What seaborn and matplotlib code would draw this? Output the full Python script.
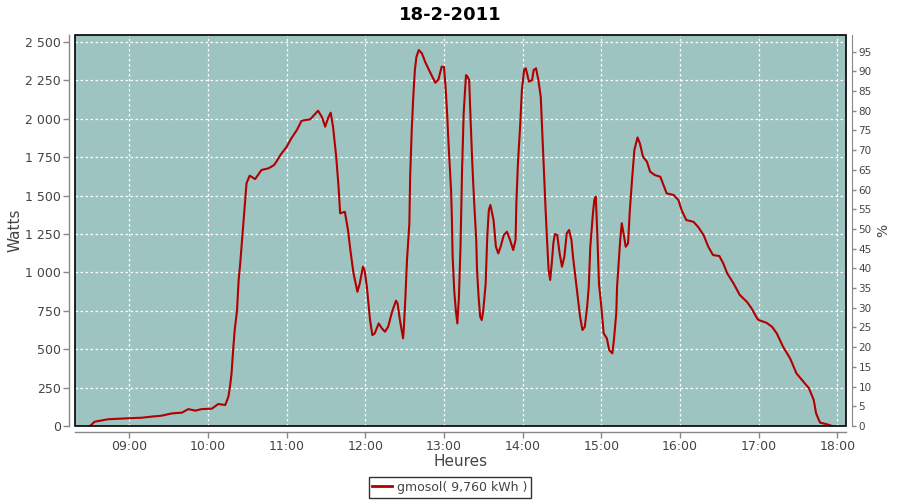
import matplotlib
matplotlib.use("Agg")
import matplotlib.pyplot as plt
from matplotlib.patches import Rectangle
from matplotlib.ticker import FuncFormatter, MultipleLocator
import seaborn as sns
import pandas as pd

# ---- data (time in decimal hours, power in W) ----
hours = [8.50, 8.56, 8.73, 8.97, 9.16, 9.28, 9.41, 9.54, 9.67, 9.75, 9.84, 9.92,
         10.05, 10.13, 10.22, 10.26, 10.28, 10.30, 10.32, 10.34, 10.37, 10.39, 10.41,
         10.43, 10.45, 10.47, 10.49, 10.53, 10.60, 10.68, 10.77, 10.84, 10.87, 10.92,
         11.00, 11.06, 11.13, 11.19, 11.30, 11.40, 11.45, 11.49, 11.53, 11.56, 11.59,
         11.63, 11.66, 11.68, 11.74, 11.78, 11.81, 11.85, 11.90, 11.93, 11.97, 11.99,
         12.02, 12.06, 12.09, 12.12, 12.17, 12.21, 12.25, 12.29, 12.34, 12.39, 12.41,
         12.44, 12.48, 12.49, 12.51, 12.53, 12.56, 12.57, 12.59, 12.61, 12.63, 12.65,
         12.68, 12.72, 12.76, 12.82, 12.89, 12.93, 12.97, 13.00, 13.02, 13.04, 13.06,
         13.09, 13.10, 13.11, 13.13, 13.15, 13.17, 13.19, 13.21, 13.23, 13.25, 13.28,
         13.30, 13.32, 13.34, 13.36, 13.38, 13.41, 13.42, 13.44, 13.46, 13.48, 13.50,
         13.53, 13.55, 13.57, 13.59, 13.63, 13.66, 13.69, 13.72, 13.76, 13.80, 13.84,
         13.88, 13.91, 13.92, 13.94, 13.97, 13.99, 14.02, 14.04, 14.08, 14.12, 14.14,
         14.17, 14.20, 14.23, 14.25, 14.27, 14.29, 14.31, 14.33, 14.35, 14.37, 14.39,
         14.41, 14.44, 14.47, 14.50, 14.53, 14.56, 14.59, 14.62, 14.64, 14.67, 14.70,
         14.73, 14.76, 14.79, 14.82, 14.84, 14.86, 14.89, 14.91, 14.93, 14.95, 14.97,
         15.00, 15.03, 15.07, 15.10, 15.14, 15.16, 15.19, 15.20, 15.22, 15.24, 15.26,
         15.29, 15.31, 15.34, 15.36, 15.39, 15.42, 15.46, 15.49, 15.53, 15.58, 15.62,
         15.68, 15.75, 15.79, 15.83, 15.92, 15.98, 16.02, 16.08, 16.17, 16.23, 16.30,
         16.36, 16.42, 16.50, 16.55, 16.60, 16.68, 16.76, 16.85, 16.91, 16.98, 17.00,
         17.10, 17.17, 17.23, 17.31, 17.40, 17.48, 17.57, 17.64, 17.70, 17.73, 17.78,
         17.87, 17.93]
watts = [0, 28, 44, 50, 54, 61, 67, 82, 87, 110, 100, 110,
         113, 143, 137, 191, 256, 343, 495, 625, 755, 950, 1059,
         1189, 1320, 1450, 1580, 1630, 1608, 1667, 1678, 1699, 1721, 1764,
         1818, 1873, 1927, 1988, 1997, 2053, 2010, 1949, 2010, 2040, 1949,
         1753, 1558, 1385, 1395, 1276, 1146, 994, 874, 929, 1037, 1016,
         907, 690, 592, 603, 668, 636, 614, 646, 744, 816, 798,
         690, 571, 636, 842, 1081, 1320, 1623, 1927, 2144, 2318, 2404,
         2448, 2426, 2372, 2307, 2235, 2257, 2339, 2339, 2209, 2035, 1818,
         1536, 1363, 1102, 885, 755, 668, 842, 1167, 1667, 2035, 2285,
         2274, 2252, 1971, 1710, 1493, 1211, 1016, 842, 712, 690, 755,
         929, 1232, 1406, 1439, 1341, 1167, 1124, 1167, 1243, 1265, 1211,
         1146, 1211, 1450, 1710, 1971, 2188, 2322, 2329, 2242, 2252, 2318,
         2329, 2252, 2144, 1905, 1667, 1428, 1211, 1016, 951, 1059, 1189,
         1250, 1243, 1124, 1037, 1102, 1254, 1276, 1211, 1102, 972, 842,
         712, 625, 646, 777, 907, 1167, 1363, 1471, 1493, 1232, 929,
         777, 603, 571, 495, 473, 560, 734, 907, 1059, 1211, 1320,
         1232, 1167, 1189, 1385, 1602, 1797, 1879, 1840, 1753, 1721, 1656,
         1634, 1623, 1569, 1515, 1504, 1471, 1406, 1341, 1330, 1297, 1243,
         1167, 1113, 1107, 1059, 994, 929, 853, 809, 766, 701, 690,
         672, 646, 603, 516, 440, 343, 288, 245, 169, 82, 22,
         11, 0]

x_ticks = [9, 10, 11, 12, 13, 14, 15, 16, 17, 18]
x_tick_labels = ["09:00", "10:00", "11:00", "12:00", "13:00", "14:00",
                 "15:00", "16:00", "17:00", "18:00"]
title = "18-2-2011"
series_label = "gmosol( 9,760 kWh )"

df = pd.DataFrame({"h": hours, "w": watts})

TXT = "#444444"
AX = "#888888"
LINE = "#b00000"
BG = "#9ec4c2"

fig = plt.figure(figsize=(9, 5), dpi=100)
fig.patch.set_facecolor("white")
ax = fig.add_axes([75 / 900, 74 / 500, 771 / 900, 391 / 500])
ax.set_facecolor(BG)

ax.grid(True, color="white", linestyle=(0, (2, 2)), linewidth=0.9)
ax.set_axisbelow(True)

sns.lineplot(data=df, x="h", y="w", ax=ax, color=LINE, linewidth=1.5,
             legend=False, zorder=3)

ax.set_xlim(8.31, 18.11)
ax.set_ylim(0, 2546)
ax.set_xticks(x_ticks)
ax.set_xticklabels(x_tick_labels)
ax.yaxis.set_major_locator(MultipleLocator(250))
ax.yaxis.set_major_formatter(FuncFormatter(lambda v, p: f"{int(v):,}".replace(",", " ")))

for s in ["top", "right"]:
    ax.spines[s].set_visible(False)
for s in ["left", "bottom"]:
    ax.spines[s].set_position(("outward", 4))
    ax.spines[s].set_color(AX)
    ax.spines[s].set_linewidth(1)
ax.tick_params(axis="both", direction="out", length=4, width=1, color=AX,
               labelcolor=TXT, labelsize=9, pad=2)

# black frame around plot area
ax.add_patch(Rectangle((0, 0), 1, 1, transform=ax.transAxes, fill=False,
                       edgecolor="black", linewidth=1.2, clip_on=False, zorder=5))

ax.set_xlabel("Heures", fontsize=11, color=TXT, labelpad=1)
ax.set_ylabel("Watts", fontsize=11, color=TXT, labelpad=2)

# right percentage axis
ax2 = ax.twinx()
ax2.set_ylim(0, 99.2)
ax2.yaxis.set_major_locator(MultipleLocator(5))
for s in ["top", "left", "bottom"]:
    ax2.spines[s].set_visible(False)
ax2.spines["right"].set_position(("outward", 4))
ax2.spines["right"].set_color(AX)
ax2.tick_params(axis="y", direction="out", length=3, width=1, color=AX,
                labelcolor=TXT, labelsize=7.5, pad=2)
ax2.set_ylabel("%", fontsize=10, color=TXT, labelpad=3)

fig.text(0.5, 1 - 15 / 500, title, fontsize=13, fontweight="bold",
         color="black", ha="center", va="center")

handle = plt.Line2D([], [], color=LINE, linewidth=2)
leg = fig.legend([handle], [series_label], loc="lower center",
                 bbox_to_anchor=(0.5, 0.0), frameon=True, fontsize=9,
                 handlelength=1.6, handletextpad=0.4, borderpad=0.3,
                 fancybox=False, borderaxespad=0.2)
leg.get_frame().set_edgecolor("black")
leg.get_frame().set_linewidth(1)
for t in leg.get_texts():
    t.set_color(TXT)

fig.savefig("out.png", dpi=100)
